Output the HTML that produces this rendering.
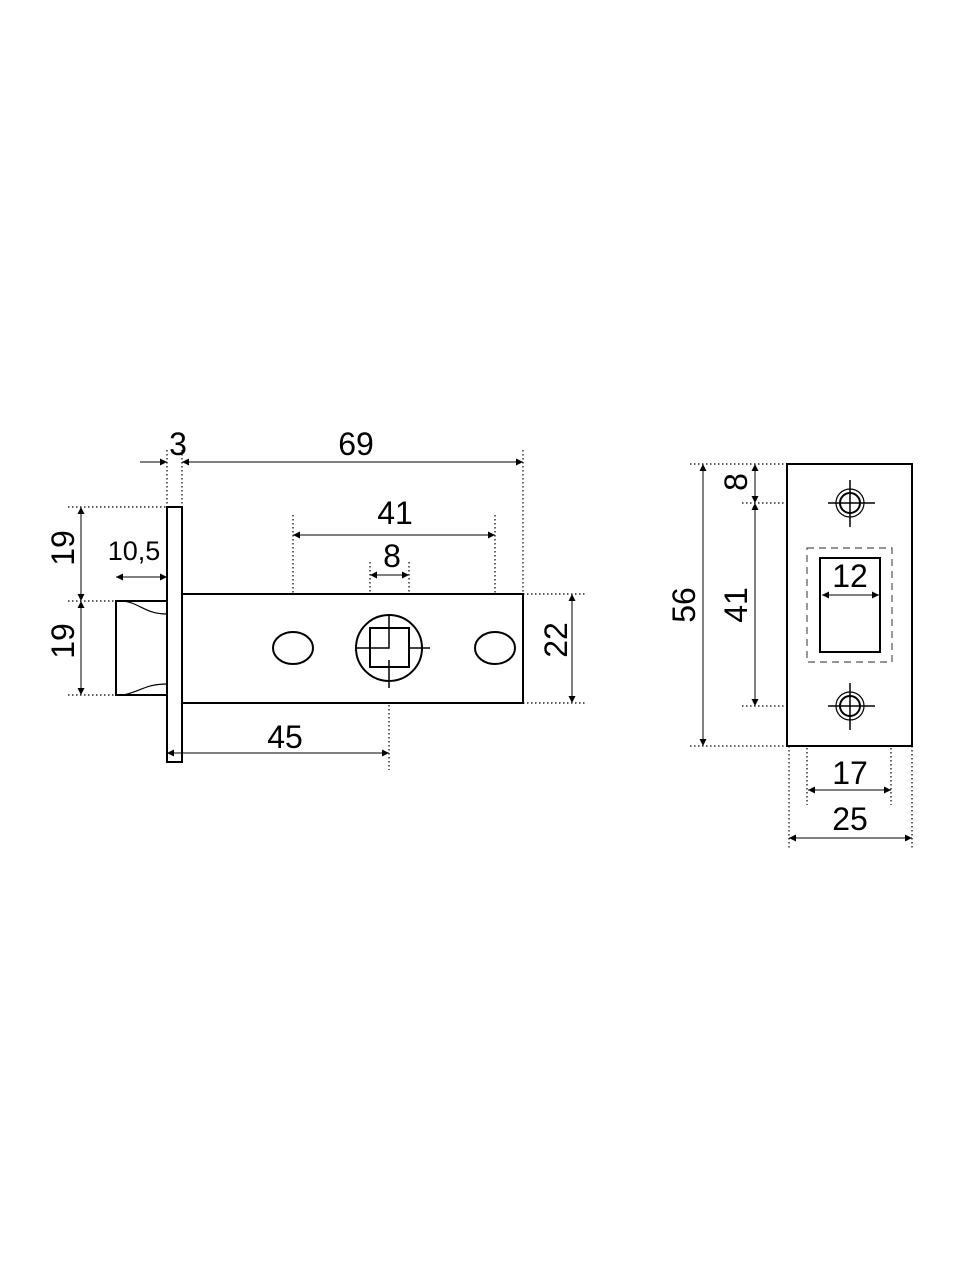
<!DOCTYPE html><html><head><style>body{margin:0;background:#fff}svg{display:block}</style></head><body>
<svg width="960" height="1280" viewBox="0 0 960 1280" xmlns="http://www.w3.org/2000/svg" font-family="Liberation Sans, sans-serif" font-size="32">
<defs><marker id="a" viewBox="0 0 10 10" refX="10" refY="5" markerWidth="10" markerHeight="7" orient="auto-start-reverse" markerUnits="userSpaceOnUse"><path d="M0,0L10,5L0,10z" fill="#000"/></marker></defs>
<g stroke="#000" stroke-width="1.2" stroke-dasharray="1.5,2.5" fill="none">
<line x1="167" y1="450" x2="167" y2="507"/><line x1="182" y1="450" x2="182" y2="507"/>
<line x1="523" y1="450" x2="523" y2="594"/>
<line x1="293" y1="515" x2="293" y2="648"/><line x1="495" y1="515" x2="495" y2="648"/>
<line x1="370" y1="562" x2="370" y2="628"/><line x1="409" y1="562" x2="409" y2="628"/>
<line x1="389" y1="665" x2="389" y2="770"/>
<line x1="68" y1="507" x2="167" y2="507"/><line x1="68" y1="601" x2="116" y2="601"/><line x1="68" y1="695" x2="116" y2="695"/>
<line x1="523" y1="594" x2="585" y2="594"/><line x1="523" y1="703" x2="585" y2="703"/>
<line x1="167" y1="762" x2="167" y2="740"/>
<line x1="690" y1="464" x2="787" y2="464"/><line x1="690" y1="746" x2="787" y2="746"/>
<line x1="742" y1="503" x2="850" y2="503"/><line x1="742" y1="706" x2="850" y2="706"/>
<line x1="807" y1="640" x2="807" y2="805"/><line x1="891" y1="640" x2="891" y2="805"/>
<line x1="789" y1="746" x2="789" y2="848"/><line x1="912" y1="746" x2="912" y2="848"/>
</g>
<g stroke="#000" stroke-width="2" fill="#fff">
<rect x="182" y="594" width="341" height="109"/>
<path d="M116,601H167V695H116Z"/>
<path d="M123,601C140,603 145,614 167,614M123,695C140,692 145,684 167,684" fill="none" stroke-width="1.2"/>
<rect x="167" y="507" width="15" height="255"/>
<ellipse cx="293" cy="648" rx="20" ry="16"/><ellipse cx="495" cy="648" rx="20" ry="16"/>
<circle cx="389" cy="648" r="33"/>
<rect x="370" y="628" width="39" height="39" fill="none"/>
<path d="M389,615V648H357M409,648H430M389,660V688" fill="none" stroke-width="1.5"/>
<rect x="787" y="464" width="125" height="282"/>
<rect x="807" y="548" width="85" height="114" fill="none" stroke-width="1.2" stroke-dasharray="7,5" stroke="#555"/>
<rect x="820" y="558" width="60" height="94"/>
<circle cx="850" cy="503" r="14" stroke-width="1.2"/><circle cx="850" cy="503" r="10"/>
<circle cx="850" cy="706" r="14" stroke-width="1.2"/><circle cx="850" cy="706" r="10"/>
<path d="M828,503H875M850,480V527M828,706H875M850,683V730" fill="none" stroke-width="1.5"/>
</g>
<g stroke="#000" stroke-width="1" fill="none" marker-start="url(#a)" marker-end="url(#a)">
<line x1="182" y1="462" x2="523" y2="462"/>
<line x1="293" y1="535" x2="495" y2="535"/>
<line x1="370" y1="575" x2="409" y2="575"/>
<line x1="167" y1="753" x2="389" y2="753"/>
<line x1="116" y1="577" x2="167" y2="577"/>
<line x1="81" y1="507" x2="81" y2="601"/><line x1="81" y1="601" x2="81" y2="695"/>
<line x1="572" y1="594" x2="572" y2="703"/>
<line x1="703" y1="464" x2="703" y2="746"/>
<line x1="755" y1="464" x2="755" y2="503"/><line x1="755" y1="503" x2="755" y2="706"/>
<line x1="822" y1="595" x2="879" y2="595"/>
<line x1="808" y1="790" x2="891" y2="790"/>
<line x1="789" y1="838" x2="912" y2="838"/>
</g>
<g stroke="#000" stroke-width="1" marker-end="url(#a)"><line x1="140" y1="462" x2="167" y2="462"/></g>
<g text-anchor="middle">
<text x="178" y="455">3</text><text x="356" y="455">69</text>
<text x="395" y="524">41</text><text x="392" y="567">8</text>
<text x="285" y="748">45</text><text x="134" y="560" font-size="27">10,5</text>
<text transform="translate(74,548) rotate(-90)">19</text>
<text transform="translate(74,641) rotate(-90)">19</text>
<text transform="translate(567,640) rotate(-90)">22</text>
<text transform="translate(695,605) rotate(-90)">56</text>
<text transform="translate(747,482) rotate(-90)">8</text>
<text transform="translate(747,605) rotate(-90)">41</text>
<text x="850" y="587">12</text><text x="850" y="784">17</text><text x="850" y="830">25</text>
</g>
</svg></body></html>
